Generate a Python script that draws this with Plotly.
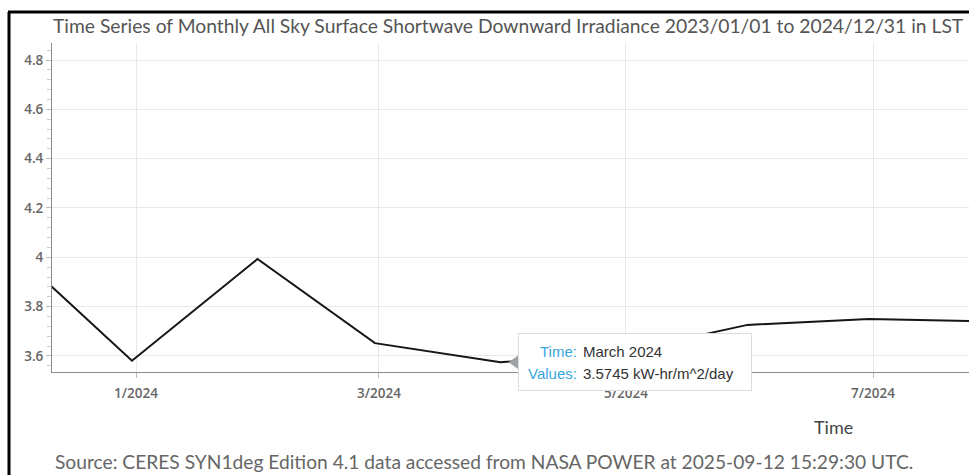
import plotly.graph_objects as go

# Monthly values, stamped at month end (as the source chart does)
month_end = [
    "2023-11-30", "2023-12-31", "2024-01-31", "2024-02-29", "2024-03-31",
    "2024-04-30", "2024-05-31", "2024-06-30", "2024-07-31",
]
irradiance = [4.05, 3.581, 3.993, 3.652, 3.5745, 3.615, 3.726, 3.750, 3.740]

hover_index = 4
hover_label = "March 2024"
units = "kW-hr/m^2/day"

title_text = (
    "Time Series of Monthly All Sky Surface Shortwave Downward Irradiance "
    "2023/01/01 to 2024/12/31 in LST"
)
source_text = (
    "Source: CERES SYN1deg Edition 4.1 data accessed from NASA POWER at "
    "2025-09-12 15:29:30 UTC."
)

W, H = 969, 475
ML, MR, MT, MB = 52, 0, 43, 103

TEXT_FONT = "Lato, 'Open Sans', sans-serif"
TICK_FONT = "'Open Sans', sans-serif"
TIP_FONT = "'Liberation Sans', Arial, sans-serif"
TIP_BLUE = "#3aa6dd"

fig = go.Figure()
fig.add_trace(
    go.Scatter(
        x=month_end,
        y=irradiance,
        mode="lines",
        line={"color": "#151515", "width": 2},
        hoverinfo="skip",
        showlegend=False,
    )
)

fig.update_layout(
    width=W,
    height=H,
    margin={"l": ML, "r": MR, "t": MT, "b": MB, "pad": 0},
    paper_bgcolor="white",
    plot_bgcolor="white",
    showlegend=False,
    hovermode=False,
    title={
        "text": title_text,
        "x": 53 / W,
        "xanchor": "left",
        "xref": "container",
        "y": 1 - 26 / H,
        "yanchor": "middle",
        "font": {"family": TEXT_FONT, "size": 19.3, "color": "#555555"},
    },
)

fig.update_xaxes(
    type="date",
    range=["2023-12-11 06:00", "2024-07-24 17:00"],
    tick0="2024-01-01",
    dtick="M2",
    tickformat="%-m/%Y",
    ticks="outside",
    ticklen=5,
    tickcolor="#bbbbbb",
    ticklabelstandoff=4,
    tickfont={"family": TICK_FONT, "size": 13.5, "color": "#666666", "weight": 600},
    showgrid=True,
    gridcolor="#e8e8e8",
    gridwidth=1,
    showline=True,
    linecolor="#8c8c8c",
    linewidth=1,
    zeroline=False,
)
fig.update_yaxes(
    range=[3.535, 4.869],
    tick0=3.6,
    dtick=0.2,
    ticks="outside",
    ticklen=5,
    tickcolor="#bbbbbb",
    tickformat="~g",
    tickfont={"family": TICK_FONT, "size": 13.5, "color": "#666666", "weight": 600},
    minor={"dtick": 0.04, "ticks": "outside", "ticklen": 4,
           "tickcolor": "#cccccc", "showgrid": False},
    showgrid=True,
    gridcolor="#e8e8e8",
    gridwidth=1,
    showline=True,
    linecolor="#8c8c8c",
    linewidth=1,
    zeroline=False,
)

# frame of the screenshot: left and top black rules
fig.add_shape(
    type="line", xref="paper", yref="paper", xsizemode="pixel", ysizemode="pixel",
    xanchor=0, yanchor=1, x0=-43, x1=-43, y0=31, y1=-500,
    line={"color": "black", "width": 3},
)
fig.add_shape(
    type="line", xref="paper", yref="paper", xsizemode="pixel", ysizemode="pixel",
    xanchor=0, yanchor=1, x0=-44, x1=1500, y0=31, y1=31,
    line={"color": "black", "width": 3},
)

# axis title and source note
fig.add_annotation(
    text="Time", xref="paper", yref="paper", x=(833 - ML) / (W - ML - MR), y=0,
    xanchor="center", yanchor="middle", yshift=-55, showarrow=False,
    font={"family": TEXT_FONT, "size": 18, "color": "#444444"},
)
fig.add_annotation(
    text=source_text, xref="paper", yref="paper", x=0, y=0, xshift=1, yshift=-89,
    xanchor="left", yanchor="middle", showarrow=False,
    font={"family": TEXT_FONT, "size": 19.2, "color": "#666666"},
)

# the hover tooltip shown in the capture
hx, hy = month_end[hover_index], irradiance[hover_index]
fig.add_shape(
    type="path", xref="x", yref="y", xsizemode="pixel", ysizemode="pixel",
    xanchor=hx, yanchor=hy, path="M 8 0 L 18 7 L 18 -7 Z",
    fillcolor="#9ea2a8", line={"width": 0},
)
fig.add_annotation(
    text=" ", x=hx, y=hy, xref="x", yref="y", xanchor="left", yanchor="middle",
    xshift=18, width=232, height=56, bgcolor="white", bordercolor="#dddddd",
    borderwidth=1, borderpad=0, showarrow=False,
)
for label, value, shift in [
    ("Time:", hover_label, 11),
    ("Values:", f"{hy} {units}", -11),
]:
    fig.add_annotation(
        text=label, x=hx, y=hy, xref="x", yref="y", xanchor="right",
        yanchor="middle", xshift=79, yshift=shift, showarrow=False,
        font={"family": TIP_FONT, "size": 15, "color": TIP_BLUE},
    )
    fig.add_annotation(
        text=value, x=hx, y=hy, xref="x", yref="y", xanchor="left",
        yanchor="middle", xshift=81, yshift=shift, showarrow=False,
        font={"family": TIP_FONT, "size": 15, "color": "#333333"},
    )

# the page is a bare capture: drop the browser's default body margin
fig.write_html(
    "out.html",
    config={"displayModeBar": False},
    post_script="document.body.style.margin = '0';",
)
